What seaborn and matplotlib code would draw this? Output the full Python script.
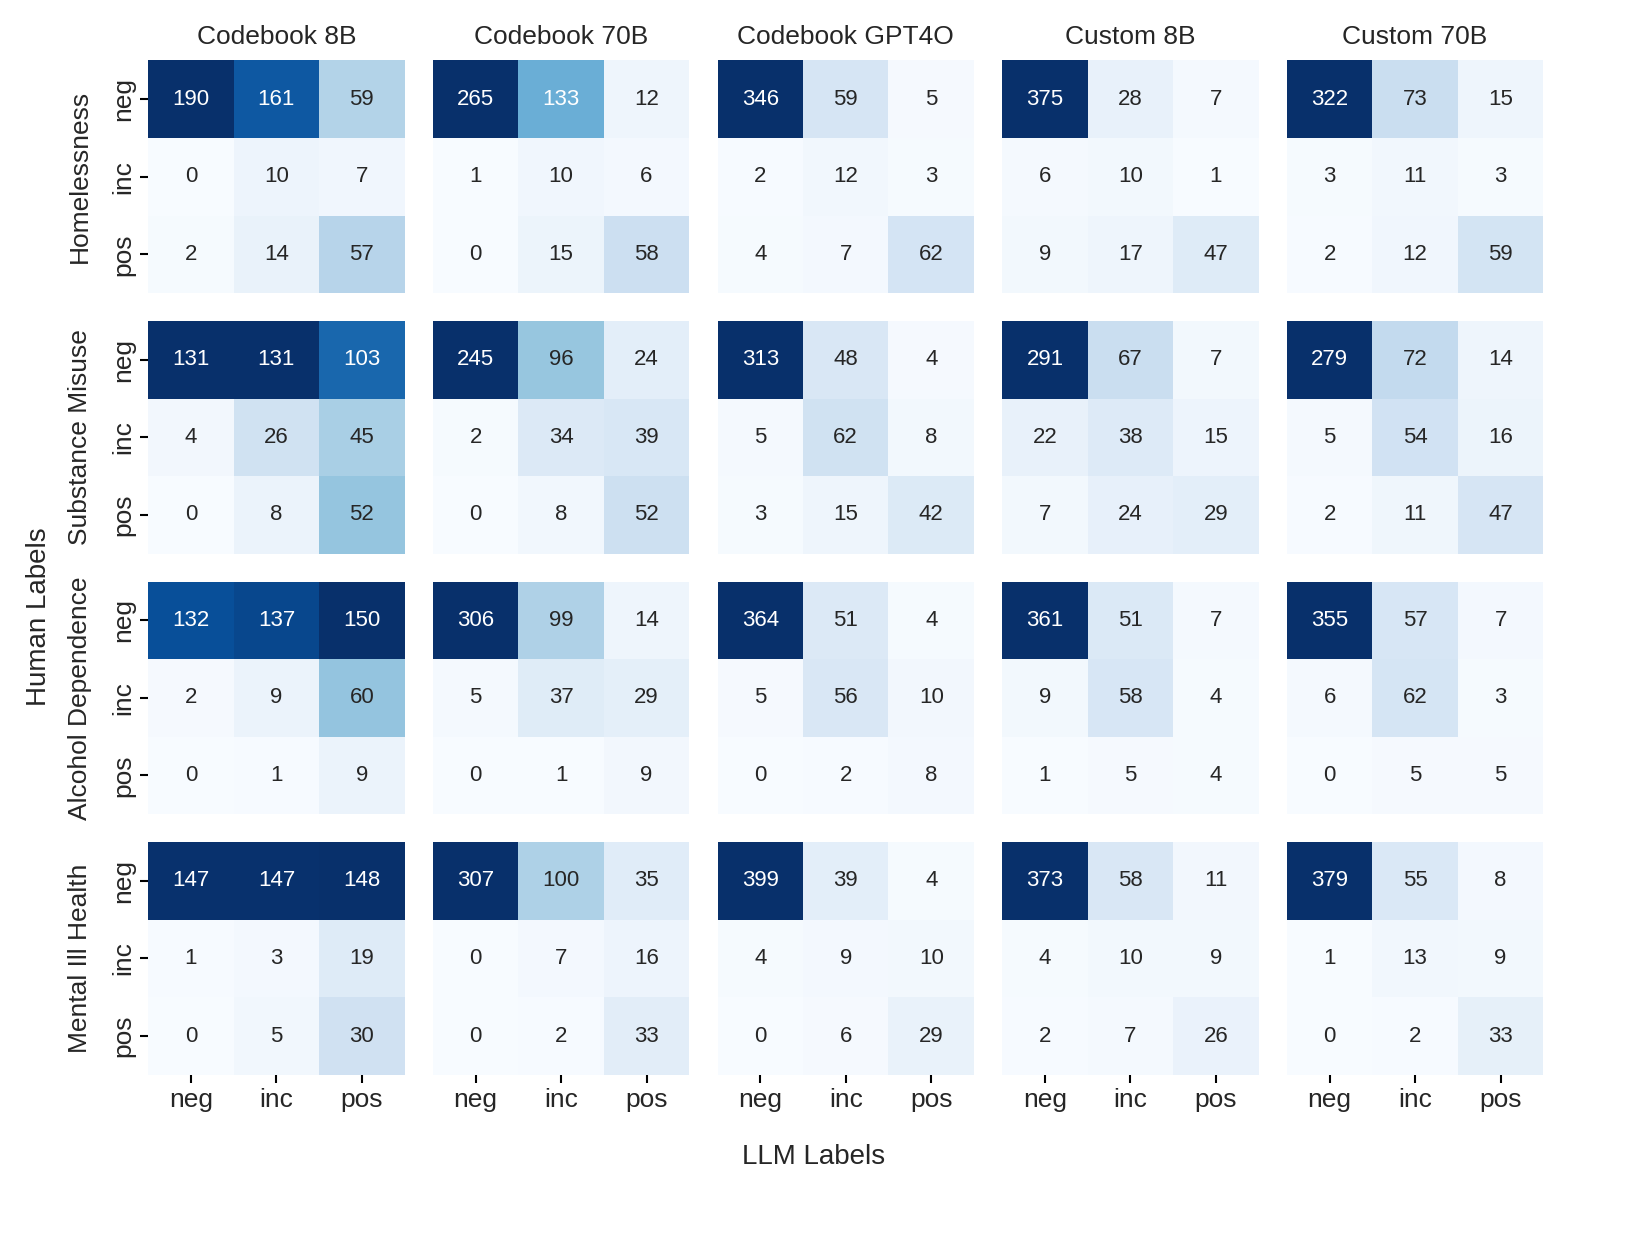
import numpy as np
import matplotlib
matplotlib.use("Agg")
import matplotlib.pyplot as plt
import seaborn as sns

# axis names
models = ["Codebook 8B", "Codebook 70B", "Codebook GPT4O", "Custom 8B", "Custom 70B"]
topics = ["Homelessness", "Substance Misuse", "Alcohol Dependence", "Mental Ill Health"]
labels = ["neg", "inc", "pos"]

# confusion matrices (rows = human label, cols = LLM label), one list per topic in model order
homelessness = [
    [[190, 161, 59], [0, 10, 7], [2, 14, 57]],
    [[265, 133, 12], [1, 10, 6], [0, 15, 58]],
    [[346, 59, 5], [2, 12, 3], [4, 7, 62]],
    [[375, 28, 7], [6, 10, 1], [9, 17, 47]],
    [[322, 73, 15], [3, 11, 3], [2, 12, 59]],
]
substance = [
    [[131, 131, 103], [4, 26, 45], [0, 8, 52]],
    [[245, 96, 24], [2, 34, 39], [0, 8, 52]],
    [[313, 48, 4], [5, 62, 8], [3, 15, 42]],
    [[291, 67, 7], [22, 38, 15], [7, 24, 29]],
    [[279, 72, 14], [5, 54, 16], [2, 11, 47]],
]
alcohol = [
    [[132, 137, 150], [2, 9, 60], [0, 1, 9]],
    [[306, 99, 14], [5, 37, 29], [0, 1, 9]],
    [[364, 51, 4], [5, 56, 10], [0, 2, 8]],
    [[361, 51, 7], [9, 58, 4], [1, 5, 4]],
    [[355, 57, 7], [6, 62, 3], [0, 5, 5]],
]
mental = [
    [[147, 147, 148], [1, 3, 19], [0, 5, 30]],
    [[307, 100, 35], [0, 7, 16], [0, 2, 33]],
    [[399, 39, 4], [4, 9, 10], [0, 6, 29]],
    [[373, 58, 11], [4, 10, 9], [2, 7, 26]],
    [[379, 55, 8], [1, 13, 9], [0, 2, 33]],
]
all_data = [homelessness, substance, alcohol, mental]

sns.set_style("ticks")
plt.rcParams['font.family'] = ['Liberation Sans', 'DejaVu Sans']

fig, axes = plt.subplots(4, 5, figsize=(16.28, 12.34), dpi=100)
fig.subplots_adjust(left=0.091, right=0.948, top=0.951, bottom=0.129, wspace=0.11, hspace=0.12)

for i, topic in enumerate(topics):
    for j, model in enumerate(models):
        ax = axes[i, j]
        cm = np.array(all_data[i][j])
        sns.heatmap(cm, ax=ax, cmap="Blues", annot=True, fmt="d", cbar=False,
                    vmin=0, annot_kws={"fontsize": 16},
                    xticklabels=labels, yticklabels=labels)
        ax.tick_params(axis="both", length=6, width=1.5, labelsize=19, color="black")
        if i == 0:
            ax.set_title(model, fontsize=19, pad=12)
        if j == 0:
            ax.set_ylabel(topic, fontsize=19, labelpad=14)
            ax.set_yticklabels(labels, rotation=90, va="center")
        else:
            ax.set_ylabel("")
            ax.tick_params(axis="y", left=False, labelleft=False)
        if i == 3:
            ax.set_xticklabels(labels, rotation=0)
        else:
            ax.tick_params(axis="x", bottom=False, labelbottom=False)

fig.supxlabel("LLM Labels", fontsize=20, y=0.052)
fig.supylabel("Human Labels", fontsize=20, x=0.016)

plt.savefig("out.png", dpi=100)
